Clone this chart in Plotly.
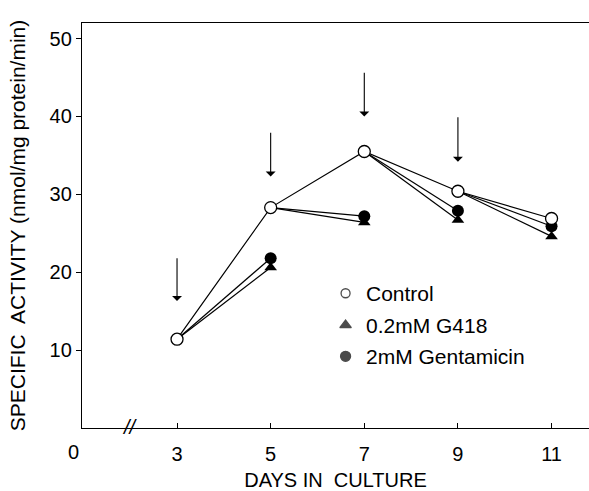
import plotly.graph_objects as go

days = [3, 5, 7, 9, 11]
control = [11.4, 28.3, 35.5, 30.4, 26.9]
g418 = [None, 20.6, 26.4, 26.7, 24.6]
gentamicin = [None, 21.8, 27.2, 27.9, 25.9]
arrow_days = [3, 5, 7, 9]
arrow_top = [22.0, 38.1, 45.8, 40.1]
arrow_bottom = [16.3, 32.3, 40.0, 34.2]
x_ticks = [3, 5, 7, 9, 11]
y_ticks = [10, 20, 30, 40, 50]

FONT = "Liberation Sans, Arial, sans-serif"

def segments(treated):
    xs, ys = [], []
    for i in range(1, len(days)):
        xs += [days[i - 1], days[i], None]
        ys += [control[i - 1], treated[i], None]
    return xs, ys

fig = go.Figure()
for series in (g418, gentamicin):
    sx, sy = segments(series)
    fig.add_trace(go.Scatter(x=sx, y=sy, mode="lines", line=dict(color="black", width=1.2),
                             showlegend=False, hoverinfo="skip"))
fig.add_trace(go.Scatter(x=days, y=control, mode="lines", line=dict(color="black", width=1.2),
                         showlegend=False, hoverinfo="skip"))
fig.add_trace(go.Scatter(x=days[1:], y=g418[1:], mode="markers", name="0.2mM G418",
                         marker=dict(symbol="triangle-up", size=11, color="black")))
fig.add_trace(go.Scatter(x=days[1:], y=gentamicin[1:], mode="markers", name="2mM Gentamicin",
                         marker=dict(symbol="circle", size=12, color="black")))
fig.add_trace(go.Scatter(x=days, y=control, mode="markers", name="Control",
                         marker=dict(symbol="circle", size=12, color="white",
                                     line=dict(color="black", width=1.3))))

for d, t, b in zip(arrow_days, arrow_top, arrow_bottom):
    fig.add_annotation(x=d, y=b, ax=d, ay=t, xref="x", yref="y", axref="x", ayref="y",
                       showarrow=True, arrowhead=1, arrowsize=1.5, arrowwidth=1.1,
                       arrowcolor="black", text="")

# legend drawn as text + markers
leg_labels = ["Control", "0.2mM G418", "2mM Gentamicin"]
leg_syms = ["circle-open", "triangle-up", "circle"]
leg_y = [17.3, 13.2, 9.2]
fig.add_trace(go.Scatter(x=[6.6] * 3, y=leg_y, mode="markers", showlegend=False,
                         hoverinfo="skip",
                         marker=dict(symbol=leg_syms, size=[9, 10, 10], color="black",
                                     line=dict(color="black", width=1.3))))
for lab, yy in zip(leg_labels, leg_y):
    fig.add_annotation(x=7.0, y=yy, xref="x", yref="y", text=lab, showarrow=False,
                       xanchor="left", yanchor="middle",
                       font=dict(family=FONT, size=21, color="black"))

# "0" tick at broken axis origin and break marks
fig.add_annotation(x=-0.032, y=0, xref="paper", yref="y", text="0", showarrow=False,
                   yshift=-24, font=dict(family=FONT, size=20, color="black"))
fig.add_annotation(x=2.0, y=0, xref="x", yref="y", text="<i>//</i>", showarrow=False,
                   yshift=1, font=dict(family=FONT, size=20, color="black"))

fig.update_layout(
    width=589, height=491,
    margin=dict(l=82, r=0, t=23, b=63),
    plot_bgcolor="white", paper_bgcolor="white",
    showlegend=False,
    font=dict(family=FONT, size=20, color="black"),
    xaxis=dict(range=[0.97, 11.8], tickvals=x_ticks, ticktext=[str(v) for v in x_ticks],
               ticks="inside", ticklen=5, tickcolor="black", showline=True,
               linecolor="black", linewidth=1.3, mirror=True, showgrid=False,
               zeroline=False, ticklabelstandoff=8,
               title=dict(text="DAYS IN  CULTURE", standoff=10,
                          font=dict(family=FONT, size=20))),
    yaxis=dict(range=[0, 52], tickvals=y_ticks, ticks="outside", ticklen=5,
               tickcolor="black", showline=True, linecolor="black", linewidth=1.3,
               showgrid=False, zeroline=False,
               title=dict(text="SPECIFIC  ACTIVITY (nmol/mg protein/min)", standoff=18,
                          font=dict(family=FONT, size=21))),
)

fig.write_html("out.html")
